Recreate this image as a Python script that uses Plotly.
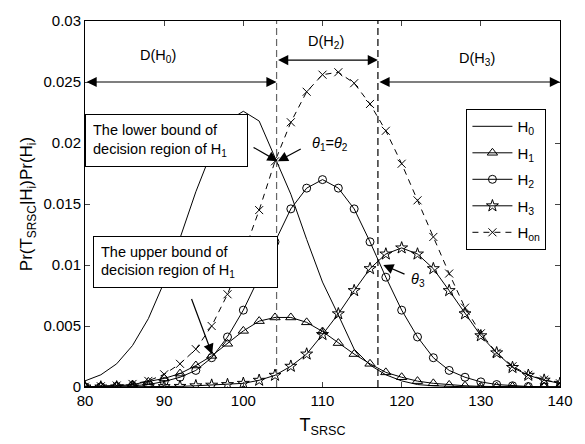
import plotly.graph_objects as go

# ---------------- data ----------------
T = [80, 82, 84, 86, 88, 90, 92, 94, 96, 98, 100, 102, 104, 106, 108, 110,
     112, 114, 116, 118, 120, 122, 124, 126, 128, 130, 132, 134, 136, 138, 140]

H0 = [0.0005, 0.0010, 0.0019, 0.0034, 0.0056, 0.0086, 0.0122, 0.0160, 0.0193,
      0.0218, 0.0226, 0.0218, 0.0188, 0.0158, 0.0121, 0.0086, 0.0059, 0.0031,
      0.0018, 0.0010, 0.0005, 0.0002, 0.0001, 0.00004, 0.00002, 0.00001,
      0.00001, 0.0, 0.0, 0.0, 0.0]

H1 = [0.00002, 0.00005, 0.0001, 0.0002, 0.00042, 0.0007, 0.0011, 0.00176,
      0.00255, 0.00354, 0.0046, 0.0054, 0.0057, 0.0057, 0.0053, 0.00455,
      0.0036, 0.0027, 0.0019, 0.0012, 0.0008, 0.00048, 0.0003, 0.00017,
      0.0001, 0.00005, 0.00003, 0.00002, 0.00001, 0.00001, 0.0]

H2 = [0.00001, 0.00002, 0.00004, 0.0001, 0.0002, 0.00045, 0.0008, 0.00136,
      0.0024, 0.0041, 0.0063, 0.0090, 0.0119, 0.0146, 0.0163, 0.0170, 0.0163,
      0.0146, 0.0119, 0.0090, 0.0063, 0.0041, 0.0024, 0.00136, 0.0008,
      0.00042, 0.0002, 0.0001, 0.00004, 0.00002, 0.00001]

H3 = [0.0, 0.0, 0.00001, 0.00001, 0.00002, 0.00003, 0.00005, 0.0001, 0.00015,
      0.0002, 0.0003, 0.00055, 0.00096, 0.0017, 0.0027, 0.0043, 0.0060, 0.0079,
      0.0097, 0.0109, 0.0114, 0.0109, 0.0097, 0.0079, 0.0060, 0.0042, 0.0028,
      0.0016, 0.00096, 0.00056, 0.0003]

Hon = [0.00003, 0.00006, 0.00012, 0.00025, 0.0005, 0.00104, 0.0019, 0.0031,
       0.0050, 0.0076, 0.0109, 0.0145, 0.0185, 0.0217, 0.0242, 0.0256, 0.0258,
       0.0249, 0.0232, 0.0210, 0.0183, 0.0153, 0.0123, 0.0093, 0.0065, 0.0044,
       0.0028, 0.0017, 0.0010, 0.0006, 0.0003]

BOUNDS = [104.2, 117]          # decision-region boundaries
X_TICKS = [80, 90, 100, 110, 120, 130, 140]
Y_TICKS = [0, 0.005, 0.01, 0.015, 0.02, 0.025, 0.03]
Y_TICK_TEXT = ["0", "0.005", "0.01", "0.015", "0.02", "0.025", "0.03"]

FONT = "Liberation Sans, Arial, Helvetica, sans-serif"

fig = go.Figure()

fig.add_trace(go.Scatter(x=T, y=H0, mode="lines", name="H<sub>0</sub>",
                         line=dict(color="black", width=1), legendgroup="a"))
fig.add_trace(go.Scatter(x=T, y=H1, mode="lines+markers", name="H<sub>1</sub>",
                         line=dict(color="black", width=1), legendgroup="b",
                         marker=dict(symbol="triangle-up-open", size=9,
                                     color="black", line=dict(width=1))))
fig.add_trace(go.Scatter(x=T, y=H2, mode="lines+markers", name="H<sub>2</sub>",
                         line=dict(color="black", width=1), legendgroup="c",
                         marker=dict(symbol="circle-open", size=8,
                                     color="black", line=dict(width=1))))
fig.add_trace(go.Scatter(x=T, y=H3, mode="lines+markers", name="H<sub>3</sub>",
                         line=dict(color="black", width=1), legendgroup="d",
                         marker=dict(symbol="star-open", size=9,
                                     color="black", line=dict(width=1))))
fig.add_trace(go.Scatter(x=T, y=Hon, mode="lines+markers", name="H<sub>on</sub>",
                         line=dict(color="black", width=1, dash="6px,5px"),
                         legendgroup="e",
                         marker=dict(symbol="x-thin-open", size=8,
                                     color="black", line=dict(width=1))))

# vertical boundaries
fig.add_shape(type="line", xref="x", yref="paper", x0=BOUNDS[0], x1=BOUNDS[0],
              y0=0, y1=1, line=dict(color="#666666", width=1.2, dash="7px,4px"))
fig.add_shape(type="line", xref="x", yref="paper", x0=BOUNDS[1], x1=BOUNDS[1],
              y0=0, y1=1, line=dict(color="black", width=1.2, dash="7px,4px"))

ann = []
def arrow(x0, y0, x1, y1, both=False):
    ann.append(dict(x=x1, y=y1, ax=x0, ay=y0, xref="x", yref="y", axref="x",
                    ayref="y", text="", showarrow=True, arrowhead=2,
                    startarrowhead=2, arrowsize=1.7, startarrowsize=1.7,
                    arrowwidth=1.2, arrowcolor="black",
                    arrowside="end+start" if both else "end"))

def label(x, y, txt, size=14.5):
    ann.append(dict(x=x, y=y, xref="x", yref="y", text=txt, showarrow=False,
                    font=dict(family=FONT, size=size, color="black")))

# decision regions
arrow(80, 0.025, BOUNDS[0], 0.025, both=True)
arrow(BOUNDS[0], 0.0268, BOUNDS[1], 0.0268, both=True)
arrow(BOUNDS[1], 0.0250, 140, 0.0250, both=True)
label(89.2, 0.0271, "D(H<sub>0</sub>)")
label(110.5, 0.0283, "D(H<sub>2</sub>)")
label(129.5, 0.0269, "D(H<sub>3</sub>)")

# boxes
ann.append(dict(x=90.24, y=0.02024, xref="x", yref="y",
                text="The lower bound of<br>decision region of H<sub>1</sub>",
                showarrow=False, align="left", width=147, height=37,
                borderpad=7, bordercolor="black", borderwidth=1, bgcolor="white",
                font=dict(family=FONT, size=14.5, color="black")))
ann.append(dict(x=92.69, y=0.01021, xref="x", yref="y",
                text="The upper bound of<br>decision region of H<sub>1</sub>",
                showarrow=False, align="left", width=169, height=36,
                borderpad=7, bordercolor="black", borderwidth=1, bgcolor="white",
                font=dict(family=FONT, size=14.5, color="black")))

arrow(101.1, 0.01971, 104.33, 0.01851)
arrow(107.44, 0.01957, 104.36, 0.01851)
label(110.9, 0.01990, "<i>θ</i><sub>1</sub>=<i>θ</i><sub>2</sub>")
arrow(93.39, 0.00734, 96.06, 0.00269)
arrow(120.55, 0.0092, 117.68, 0.0100)
label(122.0, 0.0088, "<i>θ</i><sub>3</sub>")

fig.update_layout(
    width=585, height=444,
    margin=dict(l=85, r=12, t=12, b=57),
    paper_bgcolor="white", plot_bgcolor="white",
    font=dict(family=FONT, size=15, color="black"),
    showlegend=True,
    legend=dict(x=0.803, y=0.7594, xanchor="left", yanchor="top",
                bgcolor="white", bordercolor="black", borderwidth=1,
                font=dict(family=FONT, size=15), tracegroupgap=4,
                itemwidth=40),
    annotations=ann,
)
fig.update_xaxes(range=[80, 140], tickvals=X_TICKS, ticks="inside", ticklen=5,
                 showline=True, linecolor="black", linewidth=1, mirror="ticks",
                 showgrid=False, zeroline=False,
                 tickfont=dict(family=FONT, size=15),
                 title=dict(text="T<sub>SRSC</sub>", standoff=10,
                            font=dict(family=FONT, size=18)))
fig.update_yaxes(range=[0, 0.03], tickvals=Y_TICKS, ticktext=Y_TICK_TEXT,
                 ticks="inside", ticklen=5, showline=True, linecolor="black",
                 linewidth=1, mirror="ticks", showgrid=False, zeroline=False,
                 tickfont=dict(family=FONT, size=15),
                 title=dict(text="Pr(T<sub>SRSC</sub>|H<sub>i</sub>)Pr(H<sub>i</sub>)",
                            standoff=6, font=dict(family=FONT, size=17)))

fig.write_html("out.html")
